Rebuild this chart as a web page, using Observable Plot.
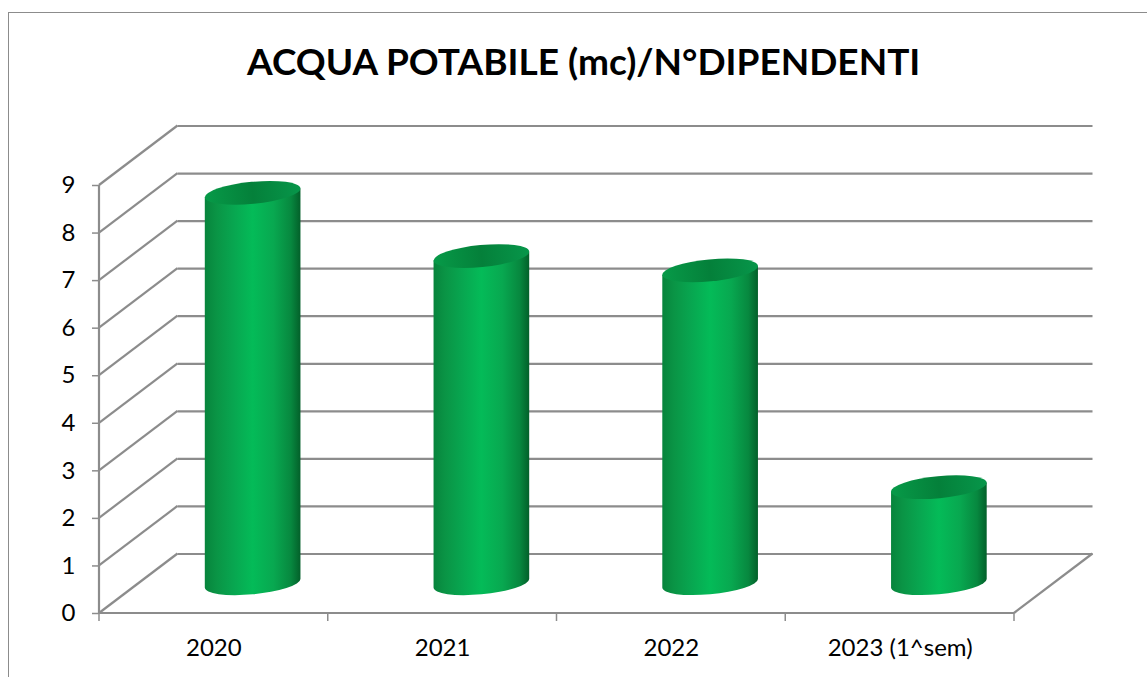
<!DOCTYPE html>
<html lang="it">
<head>
<meta charset="utf-8">
<script src="https://cdn.jsdelivr.net/npm/d3@7"></script>
<script src="https://cdn.jsdelivr.net/npm/@observablehq/plot@0.6"></script>
<style>
  html, body { margin: 0; padding: 0; background: #fff; overflow: hidden; }
  #page { position: relative; width: 1147px; height: 677px; }
  #border { position: absolute; left: 8px; top: 12px; right: 0; bottom: 0; border-left: 1px solid #8c8c8c; border-top: 1px solid #8c8c8c; }
  h1 { position: relative; margin: 0; height: 100px; padding-left: 247px; font: bold 37px/122px Lato, sans-serif; color: #000; white-space: nowrap; box-sizing: border-box; }
  svg.plot { display: block; position: relative; }
</style>
</head>
<body>
<div id="page">
  <div id="border"></div>
  <h1>ACQUA POTABILE (mc)/N°DIPENDENTI</h1>
  <div id="chart"></div>
</div>
<script>
const categories = ["2020", "2021", "2022", "2023 (1^sem)"];
const values = [8.21, 6.88, 6.58, 2.02];
const yTicks = [0, 1, 2, 3, 4, 5, 6, 7, 8, 9];
const table = categories.map((c, i) => ({ category: c, value: values[i] }));

const depthX = 78.5, depthY = -59.5, gridColor = "#8c8c8c", gridWidth = 2.2;
const barRatio = 0.42, tilt = -5.5, ry = 11;

function svgG() { return d3.create("svg:g"); }

// Side walls, floor, and band-edge ticks of the 3D box
function boxRender(index, scales, channels, dims) {
  const { x, y } = scales;
  const L = dims.marginLeft, R = dims.width - dims.marginRight, B = y(0);
  const g = svgG().attr("fill", "none").attr("stroke", gridColor).attr("stroke-width", gridWidth);
  for (const t of yTicks) {
    g.append("line").attr("x1", L).attr("y1", y(t)).attr("x2", L + depthX).attr("y2", y(t) + depthY);
  }
  g.append("line").attr("x1", L).attr("y1", y(d3.max(yTicks))).attr("x2", L).attr("y2", B);
  g.append("line").attr("x1", L).attr("y1", B).attr("x2", R).attr("y2", B);
  g.append("line").attr("x1", R).attr("y1", B).attr("x2", R + depthX).attr("y2", B + depthY);
  const edges = categories.map(c => x(c)).concat(R);
  for (const e of edges) {
    g.append("line").attr("x1", e).attr("y1", B).attr("x2", e).attr("y2", B + 8).attr("stroke-width", 1.5);
  }
  return g.node();
}

// Cylinders
function cylinderRender(index, scales) {
  const { x, y } = scales;
  const bw = x(categories[1]) - x(categories[0]);
  const rx = bw * barRatio / 2;
  const rad = tilt * Math.PI / 180;
  const X = Math.sqrt((rx * Math.cos(rad)) ** 2 + (ry * Math.sin(rad)) ** 2);
  const off = (rx * rx - ry * ry) * Math.abs(Math.sin(rad) * Math.cos(rad)) / X;
  const g = svgG();
  const defs = g.append("defs");
  const grad = (id, stops) => {
    const lg = defs.append("linearGradient").attr("id", id).attr("x1", 0).attr("x2", 1).attr("y1", 0).attr("y2", 0);
    for (const [o, c] of stops) lg.append("stop").attr("offset", o).attr("stop-color", c);
  };
  grad("cylSide", [[0, "#07843c"], [0.12, "#0a9445"], [0.3, "#08a650"], [0.5, "#04bb58"], [0.72, "#08a850"], [0.9, "#07883f"], [1, "#03602a"]]);
  grad("cylTop", [[0, "#079a48"], [0.5, "#04803a"], [1, "#07964a"]]);
  for (const i of index) {
    const d = table[i];
    const cx = x(d.category) + bw / 2 + depthX / 2;
    const by = y(0) + depthY / 2;
    const ty = y(d.value) + depthY / 2;
    const side = `M${cx - X},${ty + off}L${cx - X},${by + off}A${rx},${ry} ${tilt} 0 0 ${cx + X},${by - off}L${cx + X},${ty - off}Z`;
    g.append("path").attr("d", side).attr("fill", "url(#cylSide)");
    g.append("ellipse").attr("cx", 0).attr("cy", 0).attr("rx", rx).attr("ry", ry)
      .attr("transform", `translate(${cx},${ty}) rotate(${tilt})`).attr("fill", "url(#cylTop)");
  }
  return g.node();
}

const chart = Plot.plot({
  width: 1147,
  height: 577,
  marginLeft: 99,
  marginRight: 133,
  marginTop: 85,
  marginBottom: 64,
  style: { fontFamily: "Lato, sans-serif", fontSize: "22px", color: "#000", background: "transparent", overflow: "visible" },
  x: { type: "band", domain: categories, padding: 0, round: false, label: null },
  y: { domain: [0, 9], label: null },
  marks: [
    Plot.ruleY(yTicks, { y: d => d, dx: depthX, dy: depthY, stroke: gridColor, strokeWidth: gridWidth, strokeOpacity: 1 }),
    Plot.ruleY(yTicks, { y: d => d, render: boxRender }),
    Plot.axisY({ ticks: yTicks, tickSize: 7, tickPadding: 17, stroke: gridColor, strokeWidth: 1.5, strokeOpacity: 1, fill: "#000", label: null, fontSize: 24 }),
    Plot.axisX({ tickSize: 0, tickPadding: 25, label: null, fill: "#000", fontSize: 24 }),
    Plot.barY(table, { x: "category", y: "value", render: cylinderRender })
  ]
});
document.getElementById("chart").appendChild(chart);
</script>
</body>
</html>
